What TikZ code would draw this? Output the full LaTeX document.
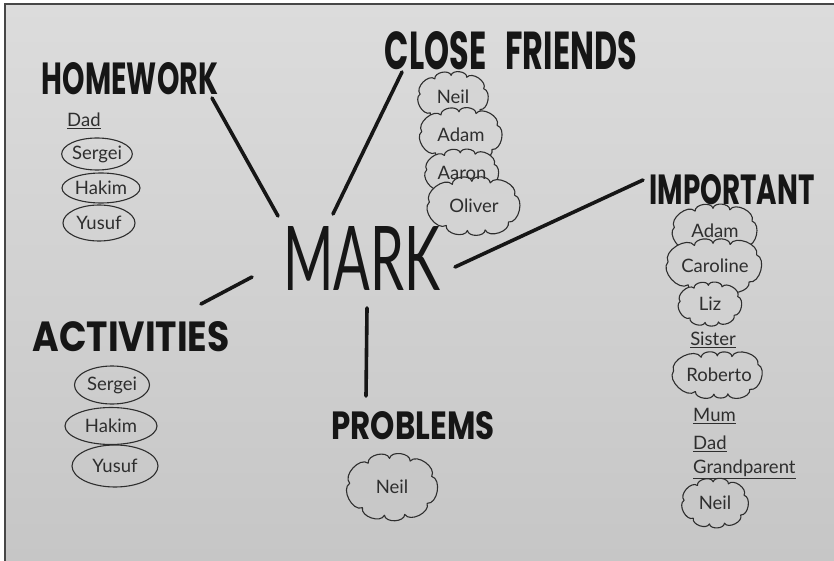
\documentclass[tikz,border=0pt]{standalone}
\usepackage{fontspec}
\usepackage{graphicx}
\setmainfont{Lato}
\newfontfamily\headfont{Poppins}
\usetikzlibrary{shapes.geometric}
% stretch a text to an exact width and height
\newcommand{\boxto}[3]{\resizebox{#1pt}{#2pt}{#3}}
\definecolor{board}{HTML}{DCDCDC}
\definecolor{ink}{HTML}{161616}
\definecolor{pen}{HTML}{2E2E2E}
\pgfdeclarelayer{paper}
\pgfdeclarelayer{puffs}
\pgfsetlayers{paper,puffs,main}
\tikzset{
  heading/.style={font=\headfont\bfseries, text=ink, inner sep=0pt},
  centre/.style={font=\rmfamily, text=ink, inner sep=0pt},
  spoke/.style={draw=ink, line width=3.6pt, line cap=round},
  nametext/.style={font=\fontsize{18.5}{20}\selectfont, text=pen, inner sep=0pt},
  ring/.style={ellipse, draw=pen, line width=1.1pt, nametext},
  puffcore/.style={ellipse, nametext},
  puffline/.style={draw=pen, line width=1.1pt, line join=round}
}
% a cloud of puffs around an elliptic core node:
% #1 name, #2 position, #3 width, #4 height, #5 board tint, #6 text
\newcommand{\puffcloud}[6]{%
  \node[puffcore, minimum width=#3pt-4pt, minimum height=#4pt+2pt] (#1) at #2 {#6};
  \begin{pgfonlayer}{puffs}
    \filldraw[puffline, fill=board!#5!black] (#1.15)
      foreach \a in {55,95,135,175,215,255,295,335,375} { to[bend right=85] (#1.\a) } -- cycle;
  \end{pgfonlayer}}
\begin{document}
\begin{tikzpicture}[x=1pt,y=-1pt]
\useasboundingbox (0,0) rectangle (834,561);
% board
\begin{pgfonlayer}{paper}
\fill[white] (0,0) rectangle (834,561);
\shade[top color=board, bottom color=board!90!black] (5,4) rectangle (834,561);
\draw[line width=2.2pt, color=black!72] (5,561) -- (5,4) -- (834,4);
\end{pgfonlayer}

% centre
\node[centre] (mark) at (362,258) {\boxto{157}{64}{MARK}};

% headings
\node[heading] (homework) at (130,79) {\boxto{176}{32}{HOMEWORK}};
\node[heading] (close) at (511,51) {\boxto{252}{38}{CLOSE\hspace{0.6em}FRIENDS}};
\node[heading] (important) at (732,190) {\boxto{165}{30}{IMPORTANT}};
\node[heading] (activities) at (131,337) {\boxto{197}{30}{ACTIVITIES}};
\node[heading] (problems) at (413,426) {\boxto{163}{28}{PROBLEMS}};

% spokes
\coordinate (hwA) at (212,98);  \coordinate (hwB) at (278,216);
\coordinate (cfA) at (402,72);  \coordinate (cfB) at (333,214);
\coordinate (imA) at (643,180); \coordinate (imB) at (455,267);
\coordinate (acA) at (252,277); \coordinate (acB) at (201,304);
\coordinate (prA) at (367,308); \coordinate (prB) at (366,396);
\draw[spoke] (hwA) -- (hwB);
\draw[spoke] (cfA) -- (cfB);
\draw[spoke] (imA) -- (imB);
\draw[spoke] (acA) -- (acB);
\draw[spoke] (prA) -- (prB);

% homework
\node[nametext, anchor=west] (hwdad) at (67,121) {\underline{Dad}};
\node[ring, minimum width=61pt, minimum height=32pt] (hwsergei) at (97,154) {Sergei};
\node[ring, minimum width=78pt, minimum height=30pt] (hwhakim) at (101,188) {Hakim};
\node[ring, minimum width=72pt, minimum height=36pt] (hwyusuf) at (99,223) {Yusuf};

% close friends
\puffcloud{cfneil}{(453,97)}{70}{41}{97}{Neil}
\puffcloud{cfadam}{(461,135)}{83}{44}{97}{Adam}
\puffcloud{cfaaron}{(462,173)}{75}{38}{96}{Aaron}
\puffcloud{cfoliver}{(474,206)}{94}{47}{96}{Oliver}

% important
\puffcloud{imadam}{(715,231)}{86}{43}{95}{Adam}
\puffcloud{imcaroline}{(715,266)}{96}{43}{95}{Caroline}
\puffcloud{imliz}{(710,304)}{64}{35}{95}{Liz}
\node[nametext] (imsister) at (713,340) {\underline{Sister}};
\puffcloud{imroberto}{(719,375)}{92}{36}{94}{Roberto}
\node[nametext, anchor=west] (immum) at (693,416) {\underline{Mum}};
\node[nametext, anchor=west] (imdad) at (693,444) {\underline{Dad}};
\node[nametext, anchor=west] (imgrand) at (693,469) {\underline{Grandparent}};
\puffcloud{imneil}{(715,503)}{66}{40}{91}{Neil}

% activities
\node[ring, minimum width=75pt, minimum height=38pt] (acsergei) at (112,385) {Sergei};
\node[ring, minimum width=92pt, minimum height=37pt] (achakim) at (111,426) {Hakim};
\node[ring, minimum width=86pt, minimum height=42pt] (acyusuf) at (115,466) {Yusuf};

% problems
\puffcloud{prneil}{(392,487)}{89}{55}{91}{Neil}
\end{tikzpicture}
\end{document}
